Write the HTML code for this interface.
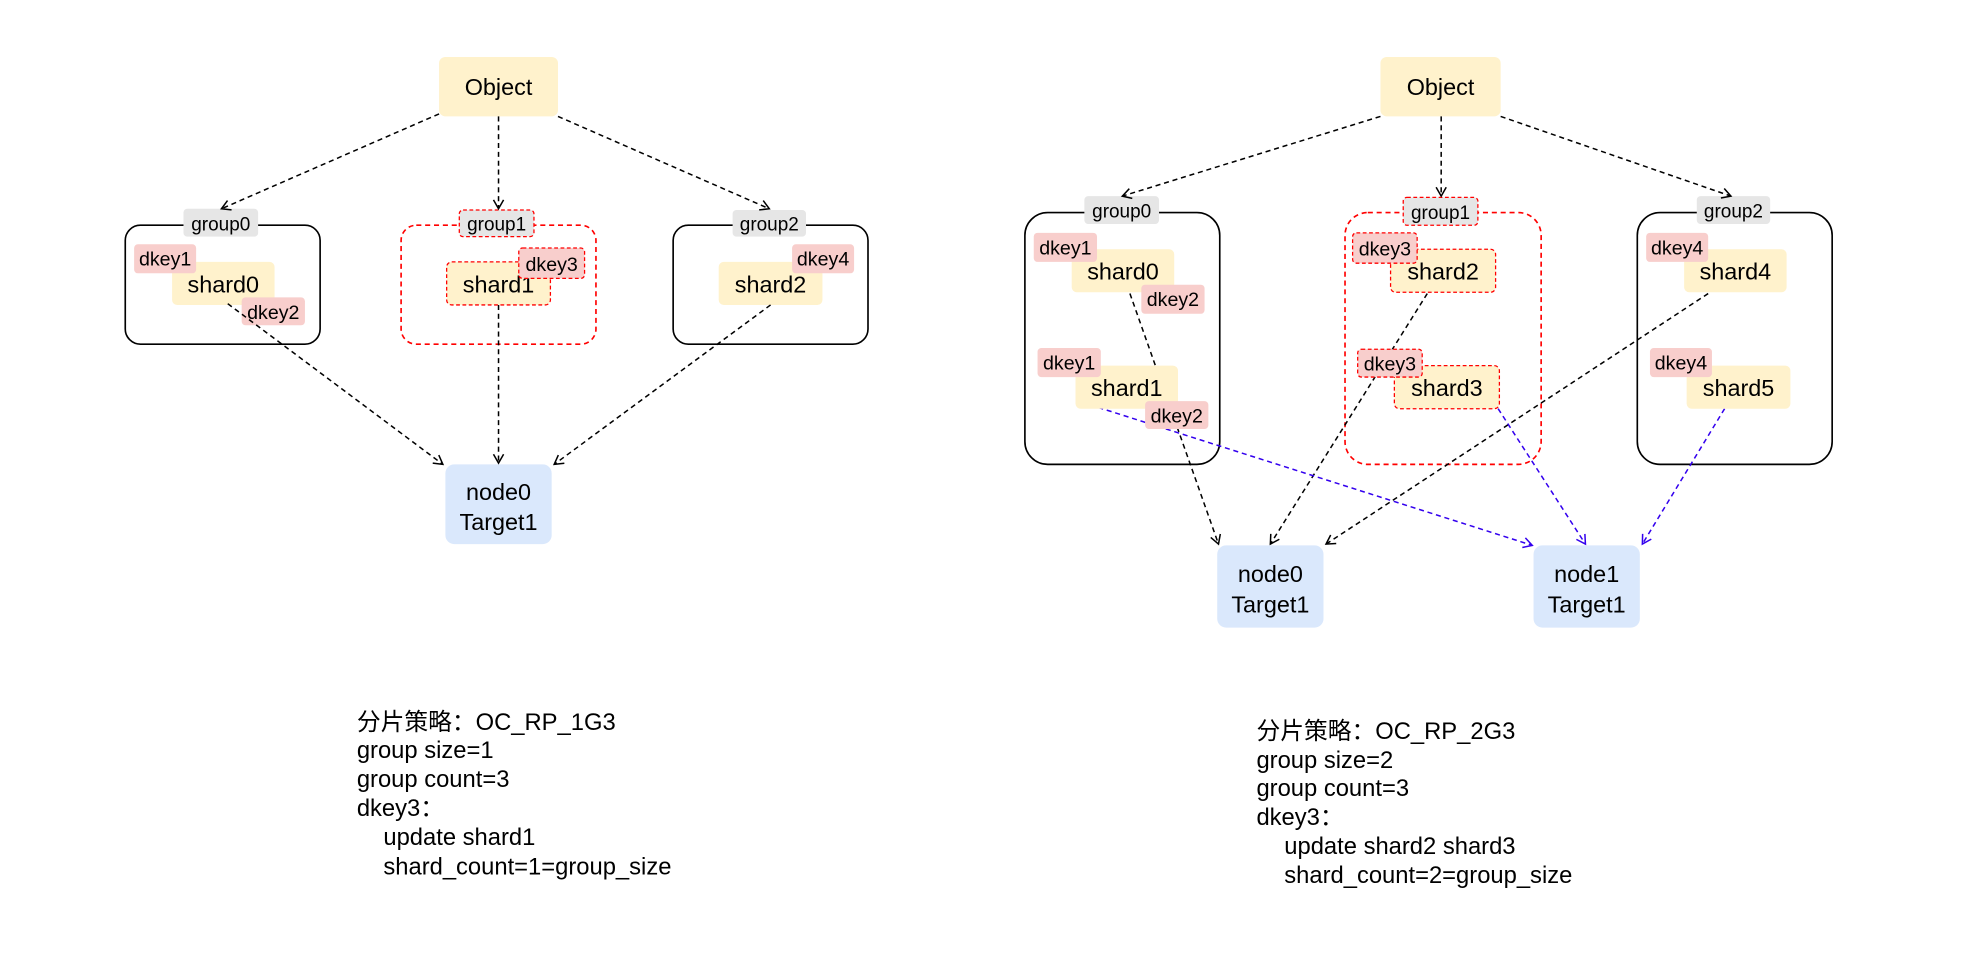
<!DOCTYPE html>
<html><head><meta charset="utf-8"><style>
html,body{margin:0;padding:0;background:#fff;}
svg{display:block;}
text{font-family:"Liberation Sans","Noto Sans CJK SC",sans-serif;fill:#000;}
</style></head><body>
<svg width="1984" height="960" viewBox="0 0 1568 758.7" xmlns="http://www.w3.org/2000/svg">
<defs>
<marker id="ab" markerWidth="10" markerHeight="10" refX="8" refY="5" orient="auto" markerUnits="userSpaceOnUse"><path d="M1,1 L8,5 L1,9" fill="none" stroke="#000" stroke-width="1.2"/></marker>
<marker id="au" markerWidth="10" markerHeight="10" refX="8" refY="5" orient="auto" markerUnits="userSpaceOnUse"><path d="M1,1 L8,5 L1,9" fill="none" stroke="#3300ee" stroke-width="1.2"/></marker>
</defs>
<g font-size="18.5" text-anchor="middle">
<!-- LEFT -->
<rect x="347" y="45" width="94" height="47" rx="5" fill="#fff2cc"/><text x="394" y="75">Object</text>
<rect x="99" y="178" width="154" height="94" rx="12" fill="none" stroke="#000" stroke-width="1.3"/>
<rect x="317" y="178" width="154" height="94" rx="12" fill="none" stroke="#f00" stroke-width="1.3" stroke-dasharray="4,3"/>
<rect x="532" y="178" width="154" height="94" rx="12" fill="none" stroke="#000" stroke-width="1.3"/>
<rect x="145" y="165" width="59" height="22" rx="3" fill="#e6e6e6"/><text x="174.5" y="182" font-size="15">group0</text>
<rect x="363" y="166" width="59" height="21" rx="3" fill="#e6e6e6" stroke="#f00" stroke-dasharray="3,2"/><text x="392.5" y="182" font-size="15">group1</text>
<rect x="579" y="166" width="58" height="21" rx="3" fill="#e6e6e6"/><text x="608" y="182" font-size="15">group2</text>
<rect x="136" y="207" width="81" height="34" rx="4" fill="#fff2cc"/><text x="176.5" y="231">shard0</text>
<rect x="106" y="193" width="49" height="23" rx="3" fill="#f8cecc"/><text x="130.5" y="210" font-size="15.5">dkey1</text>
<rect x="191" y="235" width="50" height="22" rx="3" fill="#f8cecc"/><text x="216" y="252" font-size="15.5">dkey2</text>
<rect x="353" y="207" width="82" height="34" rx="4" fill="#fff2cc" stroke="#f00" stroke-dasharray="3,2"/><text x="394" y="231">shard1</text>
<rect x="410" y="196" width="52" height="24" rx="3" fill="#f8cecc" stroke="#f00" stroke-dasharray="3,2"/><text x="436" y="214" font-size="15.5">dkey3</text>
<rect x="568" y="207" width="82" height="34" rx="4" fill="#fff2cc"/><text x="609" y="231">shard2</text>
<rect x="626" y="193" width="49" height="23" rx="3" fill="#f8cecc"/><text x="650.5" y="210" font-size="15.5">dkey4</text>
<rect x="352" y="367" width="84" height="63" rx="7" fill="#dae8fc"/><text x="394" y="395">node0</text><text x="394" y="419">Target1</text>
<g fill="none" stroke="#000" stroke-width="1.2" stroke-dasharray="4,3" marker-end="url(#ab)">
<path d="M347,90 L175,165"/><path d="M394,92 L394,165"/><path d="M441,92 L608,165"/>
<path d="M180,240 L350,367"/><path d="M394,241 L394,366"/><path d="M609,241 L438,367"/>
</g>
<!-- RIGHT -->
<rect x="1091" y="45" width="95" height="47" rx="5" fill="#fff2cc"/><text x="1138.5" y="75">Object</text>
<rect x="810" y="168" width="154" height="199" rx="18" fill="none" stroke="#000" stroke-width="1.3"/>
<rect x="1063" y="168" width="155" height="199" rx="18" fill="none" stroke="#f00" stroke-width="1.3" stroke-dasharray="4,3"/>
<rect x="1294" y="168" width="154" height="199" rx="18" fill="none" stroke="#000" stroke-width="1.3"/>
<g fill="none" stroke-width="1.2" stroke-dasharray="4,3">
<path d="M893,232 L963,430" stroke="#000" marker-end="url(#ab)"/>
<path d="M1128,232 L1004,430" stroke="#000" marker-end="url(#ab)"/>
<path d="M1350,232 L1048,430" stroke="#000" marker-end="url(#ab)"/>
<path d="M868,322 L1211,431" stroke="#3300ee" marker-end="url(#au)"/>
<path d="M1184,323 L1253,430" stroke="#3300ee" marker-end="url(#au)"/>
<path d="M1363,323 L1298,430" stroke="#3300ee" marker-end="url(#au)"/>
</g>
<rect x="857" y="155" width="59" height="22" rx="3" fill="#e6e6e6"/><text x="886.5" y="172" font-size="15">group0</text>
<rect x="1109" y="156" width="59" height="22" rx="3" fill="#e6e6e6" stroke="#f00" stroke-dasharray="3,2"/><text x="1138.5" y="173" font-size="15">group1</text>
<rect x="1341" y="155" width="58" height="22" rx="3" fill="#e6e6e6"/><text x="1370" y="172" font-size="15">group2</text>
<rect x="847" y="197" width="81" height="34" rx="4" fill="#fff2cc"/><text x="887.5" y="221">shard0</text>
<rect x="817" y="184" width="50" height="23" rx="3" fill="#f8cecc"/><text x="842" y="201" font-size="15.5">dkey1</text>
<rect x="902" y="225" width="50" height="23" rx="3" fill="#f8cecc"/><text x="927" y="242" font-size="15.5">dkey2</text>
<rect x="850" y="289" width="81" height="34" rx="4" fill="#fff2cc"/><text x="890.5" y="313">shard1</text>
<rect x="820" y="275" width="50" height="23" rx="3" fill="#f8cecc"/><text x="845" y="292" font-size="15.5">dkey1</text>
<rect x="905" y="317" width="50" height="22" rx="3" fill="#f8cecc"/><text x="930" y="334" font-size="15.5">dkey2</text>
<rect x="1099" y="197" width="83" height="34" rx="4" fill="#fff2cc" stroke="#f00" stroke-dasharray="3,2"/><text x="1140.5" y="221">shard2</text>
<rect x="1069" y="184" width="51" height="24" rx="3" fill="#f8cecc" stroke="#f00" stroke-dasharray="3,2"/><text x="1094.5" y="202" font-size="15.5">dkey3</text>
<rect x="1102" y="289" width="83" height="34" rx="4" fill="#fff2cc" stroke="#f00" stroke-dasharray="3,2"/><text x="1143.5" y="313">shard3</text>
<rect x="1073" y="276" width="51" height="22" rx="3" fill="#f8cecc" stroke="#f00" stroke-dasharray="3,2"/><text x="1098.5" y="293" font-size="15.5">dkey3</text>
<rect x="1331" y="197" width="81" height="34" rx="4" fill="#fff2cc"/><text x="1371.5" y="221">shard4</text>
<rect x="1301" y="184" width="49" height="23" rx="3" fill="#f8cecc"/><text x="1325.5" y="201" font-size="15.5">dkey4</text>
<rect x="1333" y="289" width="82" height="34" rx="4" fill="#fff2cc"/><text x="1374" y="313">shard5</text>
<rect x="1304" y="275" width="49" height="23" rx="3" fill="#f8cecc"/><text x="1328.5" y="292" font-size="15.5">dkey4</text>
<g fill="none" stroke="#000" stroke-width="1.2" stroke-dasharray="4,3" marker-end="url(#ab)">
<path d="M1091,92 L887,155"/><path d="M1139,92 L1139,155"/><path d="M1186,92 L1368,155"/>
</g>
<rect x="962" y="431" width="84" height="65" rx="7" fill="#dae8fc"/><text x="1004" y="460">node0</text><text x="1004" y="484">Target1</text>
<rect x="1212" y="431" width="84" height="65" rx="7" fill="#dae8fc"/><text x="1254" y="460">node1</text><text x="1254" y="484">Target1</text>
</g>
<g font-size="18.8">
<text x="282" y="577">分片策略：OC_RP_1G3</text>
<text x="282" y="599">group size=1</text>
<text x="282" y="622">group count=3</text>
<text x="282" y="645">dkey3：</text>
<text x="303" y="668">update shard1</text>
<text x="303" y="691">shard_count=1=group_size</text>
<text x="993" y="584">分片策略：OC_RP_2G3</text>
<text x="993" y="607">group size=2</text>
<text x="993" y="629">group count=3</text>
<text x="993" y="652">dkey3：</text>
<text x="1015" y="675">update shard2 shard3</text>
<text x="1015" y="698">shard_count=2=group_size</text>
</g>
</svg>
</body></html>
